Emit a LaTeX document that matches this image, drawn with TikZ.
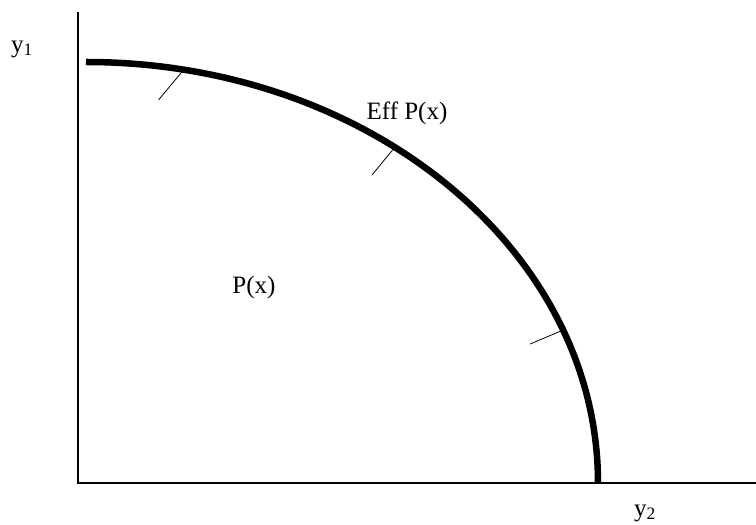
\documentclass[tikz,border=0pt]{standalone}
\usepackage{fontspec}
\setmainfont{Liberation Serif}
\begin{document}
\begin{tikzpicture}[x=1pt,y=1pt,
    axis/.style={line width=2pt},
    frontier/.style={line width=6.5pt},
    tick/.style={line width=0.8pt},
    lbl/.style={font=\fontsize{25}{30}\selectfont,inner sep=0pt}]
    \useasboundingbox (0,0) rectangle (756,525);
    % axes
    \coordinate (origin) at (77.5,42);
    \coordinate (ytop) at (77.5,513);
    \coordinate (xend) at (756,42);
    \draw[axis] (ytop) -- (origin) -- (xend);
    % efficient frontier
    \coordinate (ctr) at (86,42);
    \draw[frontier] (86,463) arc[start angle=90,end angle=0,
      x radius=512pt,y radius=421pt];
    \path (ctr) ++(79:512pt and 421pt) coordinate (t1);
    \path (ctr) ++(52.9:512pt and 421pt) coordinate (t2);
    \path (ctr) ++(21.3:512pt and 421pt) coordinate (t3);
    \draw[tick] (t1) -- ++(-25,-30);
    \draw[tick] (t2) -- ++(-23,-28);
    \draw[tick] (t3) -- ++(-33,-14);
    % labels
    \node[lbl] (y1) at (22,476) {y\textsubscript{1}};
    \node[lbl] (eff) at (407,412) {Eff P(x)};
    \node[lbl] (px) at (254,238) {P(x)};
    \node[lbl] (y2) at (645,12) {y\textsubscript{2}};
  \end{tikzpicture}
\end{document}
